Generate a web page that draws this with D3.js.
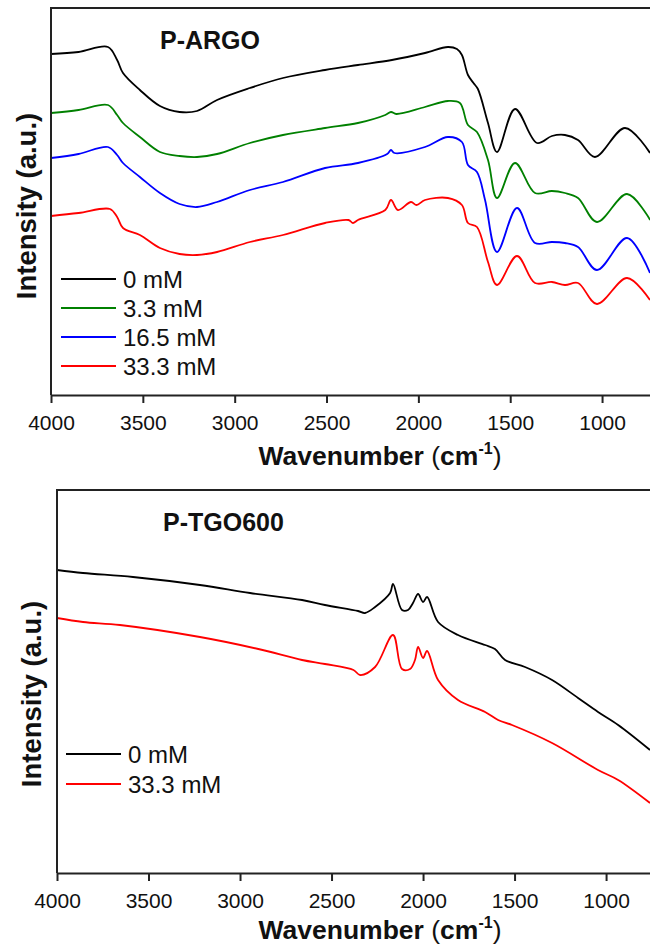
<!DOCTYPE html>
<html>
<head>
<meta charset="utf-8">
<script src="https://cdn.jsdelivr.net/npm/d3@7"></script>
<style>
  body { margin: 0; background: #fff; }
  svg { display: block; font-family: Arial, "Liberation Sans", sans-serif; }
</style>
</head>
<body>
<svg id="chart" width="650" height="949"></svg>
<script>
// FTIR spectra, [wavenumber (cm-1), intensity (a.u.)]
var argo_0 = [[4000,341],[3850,343],[3690,348],[3640,335],[3608,322],[3516,305],[3407,289],[3300,283],[3205,284],[3096,295],[2917,307],[2737,317],[2508,325],[2329,330],[2144,335],[1964,342],[1839,348],[1790,346],[1763,340],[1730,320],[1700,312],[1676,306],[1621,272],[1572,243],[1474,286],[1354,252],[1273,259],[1202,260],[1131,255],[1039,238],[875,267],[739,242]];
var argo_3 = [[4000,282],[3850,285],[3690,290],[3640,280],[3608,272],[3516,258],[3407,243],[3300,239],[3205,238],[3096,241],[2917,252],[2737,260],[2508,267],[2329,272],[2180,280],[2149,283],[2120,281],[1964,288],[1839,294],[1774,292],[1730,270],[1681,263],[1621,235],[1572,197],[1474,232],[1365,202],[1273,204],[1202,202],[1131,197],[1028,173],[864,201],[739,175]];
var argo_16 = [[4000,237],[3850,241],[3690,248],[3640,240],[3608,232],[3516,218],[3407,202],[3300,191],[3205,188],[3096,193],[2917,205],[2737,213],[2508,227],[2329,232],[2170,241],[2149,245],[2130,242],[1964,248],[1839,258],[1763,253],[1730,230],[1681,223],[1637,195],[1572,143],[1463,187],[1365,152],[1273,153],[1202,152],[1131,148],[1028,125],[864,157],[739,122]];
var argo_33 = [[4000,179],[3850,182],[3679,186],[3640,178],[3608,167],[3516,160],[3407,147],[3300,141],[3205,140],[3096,143],[2917,153],[2737,160],[2508,172],[2380,175],[2356,172],[2329,175],[2180,185],[2149,195],[2111,185],[2040,193],[2010,190],[1964,195],[1839,197],[1763,190],[1730,172],[1681,168],[1621,133],[1572,110],[1463,139],[1365,112],[1273,113],[1202,110],[1131,112],[1028,91],[864,117],[739,95]];

var tgo_0 = [[4000,303],[3858,300],[3585,296],[3219,288],[2945,280],[2661,273],[2536,268],[2355,262],[2317,260],[2262,266],[2180,280],[2164,289],[2115,263],[2082,263],[2055,270],[2027,279],[2000,271],[1978,276],[1918,251],[1809,238],[1661,228],[1607,224],[1552,213],[1443,206],[1295,193],[1153,175],[1044,161],[934,148],[760,123]];
var tgo_33 = [[4000,255],[3858,251],[3656,248],[3219,236],[2900,224],[2661,213],[2536,209],[2380,203],[2344,198],[2262,206],[2164,238],[2115,204],[2071,204],[2044,213],[2027,226],[2000,215],[1978,222],[1918,193],[1809,173],[1661,161],[1590,153],[1514,148],[1295,130],[1044,103],[934,93],[760,70]];

var xTicks = [4000, 3500, 3000, 2500, 2000, 1500, 1000];
var argoNames = ["0 mM", "3.3 mM", "16.5 mM", "33.3 mM"];
var tgoNames = ["0 mM", "33.3 mM"];
var argoColors = ["#000000", "#008000", "#0000ff", "#ff0000"];
var tgoColors = ["#000000", "#ff0000"];

var svg = d3.select("#chart");

function drawPanel(p) {
  var g = svg.append("g");
  var x = d3.scaleLinear().domain(p.xDomain).range([p.left, 650]);
  var y = d3.scaleLinear().domain(p.yDomain).range([p.bottom, p.top]);

  var clipId = "clip" + p.id;
  svg.append("clipPath").attr("id", clipId)
    .append("rect")
    .attr("x", p.left).attr("y", p.top)
    .attr("width", 650 - p.left).attr("height", p.bottom - p.top);

  // spectra
  var line = d3.line()
    .x(function (d) { return x(d[0]); })
    .y(function (d) { return y(d[1]); })
    .curve(d3.curveCatmullRom.alpha(0.5));

  g.append("g").attr("clip-path", "url(#" + clipId + ")")
    .selectAll("path")
    .data(p.series)
    .enter().append("path")
    .attr("d", line)
    .attr("fill", "none")
    .attr("stroke", function (d, i) { return p.colors[i]; })
    .attr("stroke-width", 1.8)
    .attr("stroke-linejoin", "round");

  // x axis
  var xAxis = d3.axisBottom(x).tickValues(xTicks).tickFormat(d3.format("d"))
    .tickSize(8).tickSizeOuter(0).tickPadding(12);
  var ax = g.append("g")
    .attr("transform", "translate(0," + p.bottom + ")")
    .call(xAxis);
  ax.attr("font-size", 21).attr("font-family", "Arial, 'Liberation Sans', sans-serif");
  ax.select(".domain").attr("stroke", "#222").attr("stroke-width", 2);
  ax.selectAll(".tick line").attr("stroke", "#222").attr("stroke-width", 2);
  ax.selectAll(".tick text")
    .attr("fill", "#111")
    .style("font-size", "21px");

  // left and top frame
  g.append("line").attr("x1", p.left).attr("x2", p.left)
    .attr("y1", p.top).attr("y2", p.bottom)
    .attr("stroke", "#222").attr("stroke-width", 2);
  g.append("line").attr("x1", p.left - 1).attr("x2", 650)
    .attr("y1", p.top).attr("y2", p.top)
    .attr("stroke", "#222").attr("stroke-width", 2);

  // axis titles
  var xt = g.append("text")
    .attr("x", 380).attr("y", p.bottom + p.xTitleGap)
    .attr("text-anchor", "middle")
    .style("font-size", "26.5px").attr("fill", "#111");
  xt.append("tspan").style("font-weight", "bold").text("Wavenumber ");
  xt.append("tspan").text("(");
  xt.append("tspan").style("font-weight", "bold").text("cm");
  xt.append("tspan").attr("dy", -11).style("font-size", "16px").style("font-weight", "bold").text("-1");
  xt.append("tspan").attr("dy", 11).text(")");

  g.append("text")
    .attr("transform", "translate(" + p.yLabelX + "," + p.yLabelY + ") rotate(-90)")
    .attr("text-anchor", "middle")
    .attr("dominant-baseline", "central")
    .style("font-size", "27.5px").style("font-weight", "bold").attr("fill", "#111")
    .text("Intensity (a.u.)");

  g.append("text")
    .attr("x", p.titleX).attr("y", p.titleY)
    .style("font-size", "25px").style("font-weight", "bold").attr("fill", "#111")
    .text(p.title);

  // legend
  var leg = g.selectAll(".leg")
    .data(p.names)
    .enter().append("g")
    .attr("transform", function (d, i) { return "translate(" + p.legX + "," + (p.legY + i * p.legStep) + ")"; });
  leg.append("line")
    .attr("x1", 0).attr("x2", 55)
    .attr("stroke", function (d, i) { return p.colors[i]; })
    .attr("stroke-width", 1.8);
  leg.append("text")
    .attr("x", 62).attr("y", 0)
    .attr("dominant-baseline", "central")
    .style("font-size", "24px").attr("fill", "#111")
    .text(function (d) { return d; });
}

drawPanel({
  id: "a", left: 51, top: 8, bottom: 395,
  xDomain: [4000, 739], yDomain: [0, 387],
  series: [argo_0, argo_3, argo_16, argo_33], colors: argoColors, names: argoNames,
  title: "P-ARGO", titleX: 160, titleY: 49, xTitleGap: 70,
  yLabelX: 26, yLabelY: 206,
  legX: 61, legY: 279, legStep: 29
});

drawPanel({
  id: "b", left: 57, top: 490, bottom: 873,
  xDomain: [4000, 760], yDomain: [0, 383],
  series: [tgo_0, tgo_33], colors: tgoColors, names: tgoNames,
  title: "P-TGO600", titleX: 163, titleY: 531, xTitleGap: 66,
  yLabelX: 31, yLabelY: 694,
  legX: 66, legY: 754, legStep: 30
});
</script>
</body>
</html>
